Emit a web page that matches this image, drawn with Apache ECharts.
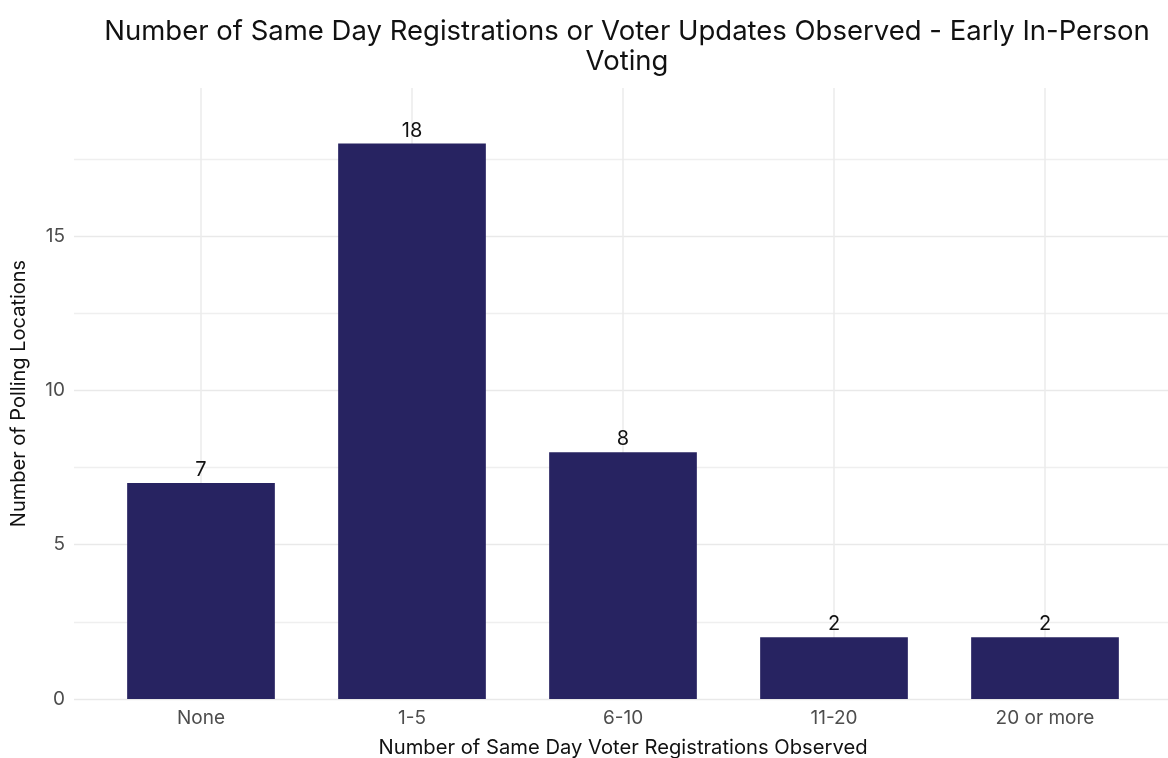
<!DOCTYPE html>
<html>
<head>
<meta charset="utf-8">
<script src="https://cdn.jsdelivr.net/npm/echarts@6/dist/echarts.min.js"></script>
<style>html,body{margin:0;padding:0;background:#fff;}#c{width:1168px;height:758px;}</style>
</head>
<body>
<div id="c"></div>
<script>
const categories = ['None', '1-5', '6-10', '11-20', '20 or more'];
const counts = [7, 18, 8, 2, 2];
const yMax = 19.8;       // 18 * 1.1 expansion
const gridTopValue = 17.5; // highest horizontal gridline
const FONT = 'Inter';

const chart = echarts.init(document.getElementById('c'), null, {renderer: 'canvas'});
const gridColor = '#ebebeb';
const plotTop = 88, plotBottom = 59, plotH = 758 - plotTop - plotBottom;
const gridATop = plotTop + plotH * (1 - gridTopValue / yMax);
chart.setOption({
  animation: false,
  backgroundColor: '#ffffff',
  textStyle: {fontFamily: FONT},
  title: {
    text: 'Number of Same Day Registrations or Voter Updates Observed - Early In-Person\nVoting',
    left: 622, top: 12, textAlign: 'center',
    textStyle: {fontFamily: FONT, fontSize: 27.5, fontWeight: 'normal', color: '#111', lineHeight: 30}
  },
  grid: [
    {left: 74, right: 0, top: gridATop, bottom: plotBottom, outerBoundsMode: 'none'},
    {left: 95.5, width: 1055, top: plotTop, bottom: plotBottom, outerBoundsMode: 'none'}
  ],
  xAxis: [
    {gridIndex: 0, type: 'value', min: 0, max: 1, show: false},
    {gridIndex: 1, type: 'category', data: categories,
     axisLine: {show: false}, axisTick: {show: false}, splitLine: {show: false},
     axisLabel: {color: '#4d4d4d', fontSize: 19, margin: 10, fontFamily: FONT},
     name: 'Number of Same Day Voter Registrations Observed', nameLocation: 'middle', nameGap: 39,
     nameTextStyle: {color: '#111', fontSize: 20.2, fontFamily: FONT}}
  ],
  yAxis: [
    {gridIndex: 0, type: 'value', min: 0, max: gridTopValue, interval: 2.5,
     axisLine: {show: false}, axisTick: {show: false},
     axisLabel: {color: '#4d4d4d', fontSize: 19, margin: 9, fontFamily: FONT,
       formatter: v => (v % 5 === 0 ? String(v) : '')},
     splitLine: {show: true, lineStyle: {color: ['#e9e9e9', '#efefef'], width: 1.3}}},
    {gridIndex: 1, type: 'value', min: 0, max: yMax, show: true,
     axisLine: {show: false}, axisTick: {show: false}, axisLabel: {show: false}, splitLine: {show: false},
     name: 'Number of Polling Locations', nameLocation: 'middle', nameGap: 67,
     nameTextStyle: {color: '#111', fontSize: 20, fontFamily: FONT}}
  ],
  series: [
    {type: 'line', xAxisIndex: 1, yAxisIndex: 1, data: [], z: 1, silent: true,
     markLine: {silent: true, z: 0, symbol: 'none', label: {show: false},
       lineStyle: {color: gridColor, width: 1.5, type: 'solid'},
       data: categories.map(c => ({xAxis: c}))}},
    {type: 'bar', xAxisIndex: 1, yAxisIndex: 1, data: counts, z: 3,
     barWidth: '70%',
     itemStyle: {color: '#272361'},
     label: {show: true, position: 'top', distance: 3, color: '#111', fontSize: 20, fontFamily: FONT}}
  ]
});
</script>
</body>
</html>
